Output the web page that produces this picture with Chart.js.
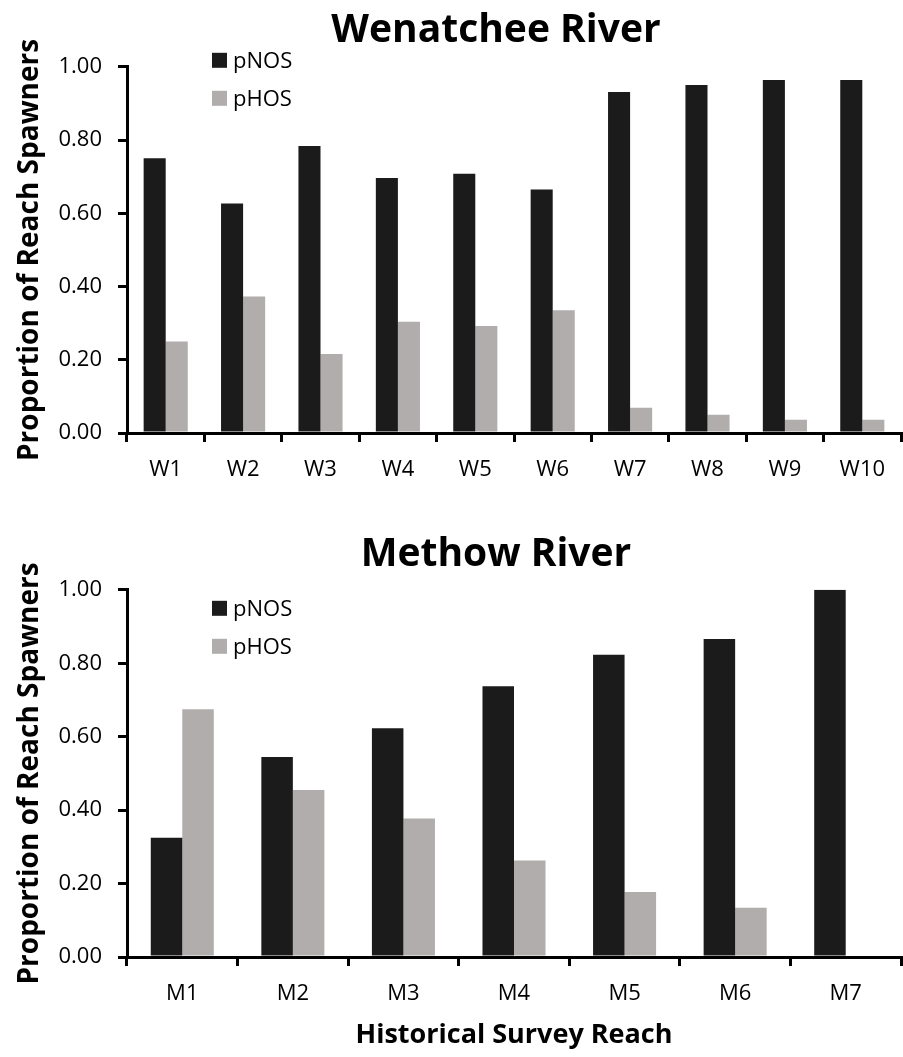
<!DOCTYPE html>
<html>
<head>
<meta charset="utf-8">
<script src="https://cdn.jsdelivr.net/npm/chart.js@4.4.1/dist/chart.umd.min.js"></script>
<style>
  body { margin: 0; background: #fff; }
  canvas { display: block; }
</style>
</head>
<body>
<canvas id="wenChart" width="903" height="490"></canvas>
<canvas id="metChart" width="903" height="567"></canvas>
<script>
// Wenatchee River reaches
var wenLabels = ['W1', 'W2', 'W3', 'W4', 'W5', 'W6', 'W7', 'W8', 'W9', 'W10'];
var wenNOS = [0.750, 0.627, 0.784, 0.696, 0.708, 0.665, 0.931, 0.950, 0.964, 0.964];
var wenHOS = [0.250, 0.373, 0.216, 0.304, 0.292, 0.335, 0.069, 0.050, 0.036, 0.036];

// Methow River reaches
var metLabels = ['M1', 'M2', 'M3', 'M4', 'M5', 'M6', 'M7'];
var metNOS = [0.325, 0.545, 0.623, 0.737, 0.823, 0.866, 1.000];
var metHOS = [0.675, 0.455, 0.377, 0.263, 0.177, 0.134, 0.000];

var seriesNames = ['pNOS', 'pHOS'];
var seriesColors = ['#1b1b1b', '#b0adac'];

Chart.defaults.font.family = "'Open Sans', sans-serif";
Chart.defaults.color = '#000';

// legend drawn inside the plot, stacked like the original
var innerLegend = {
    id: 'innerLegend',
    afterLayout: function(chart, args, opts) {
        // title sits a bit left of the plot centre in the original
        if (chart.titleBlock) {
            chart.titleBlock.left -= opts.titleShift;
            chart.titleBlock.right -= opts.titleShift;
        }
    },
    afterDraw: function(chart, args, opts) {
        var ctx = chart.ctx;
        var x = chart.chartArea.left + opts.x;
        var y = chart.chartArea.top + opts.y;
        ctx.save();
        ctx.font = "22px 'Open Sans', sans-serif";
        ctx.textBaseline = 'middle';
        chart.data.datasets.forEach(function(ds, i) {
            var cy = y + i * opts.gap;
            ctx.fillStyle = ds.backgroundColor;
            ctx.fillRect(x, cy - 7, 15, 15);
            ctx.fillStyle = '#000';
            ctx.fillText(ds.label, x + 21, cy + 2);
        });
        ctx.restore();
    }
};

function makeChart(id, title, labels, nos, hos, opt) {
    var xAxis = {
        grid: { offset: true, drawOnChartArea: false, tickLength: 9, color: '#000', lineWidth: 3 },
        border: { color: '#000', width: 3 },
        ticks: { font: { size: 22 }, padding: 15 },
        afterFit: function(scale) { scale.height = opt.xHeight; }
    };
    if (opt.xTitle) {
        xAxis.title = { display: true, text: opt.xTitle, font: { size: 27, weight: 'bold' }, padding: { top: 0, bottom: 5 } };
    }
    return new Chart(document.getElementById(id), {
        type: 'bar',
        data: {
            labels: labels,
            datasets: [
                { label: seriesNames[0], data: nos, backgroundColor: seriesColors[0] },
                { label: seriesNames[1], data: hos, backgroundColor: seriesColors[1] }
            ]
        },
        options: {
            responsive: false,
            animation: false,
            categoryPercentage: 0.57,
            barPercentage: 1.0,
            layout: { padding: { left: 0, right: 2, top: 0, bottom: 0 } },
            plugins: {
                legend: { display: false },
                tooltip: { enabled: false },
                title: {
                    display: true,
                    text: title,
                    fullSize: false,
                    font: { size: 39, weight: 'bold' },
                    color: '#000',
                    padding: opt.titlePad
                },
                innerLegend: opt.legend
            },
            scales: {
                x: xAxis,
                y: {
                    min: 0,
                    max: 1,
                    ticks: {
                        stepSize: 0.2,
                        font: { size: 22 },
                        padding: 16,
                        callback: function(v) { return v.toFixed(2); }
                    },
                    grid: { drawOnChartArea: false, tickLength: 9, color: '#000', lineWidth: 3 },
                    border: { color: '#000', width: 3 },
                    title: {
                        display: true,
                        text: 'Proportion of Reach Spawners',
                        font: { size: 28, weight: 'bold' },
                        padding: { top: 13, bottom: 0 }
                    },
                    afterFit: function(scale) { scale.width = 127; }
                }
            }
        },
        plugins: [innerLegend]
    });
}

makeChart('wenChart', 'Wenatchee River', wenLabels, wenNOS, wenHOS, {
    xHeight: 57,
    titlePad: { top: 7, bottom: 13 },
    legend: { x: 85, y: -7, gap: 38, titleShift: 18 }
});

makeChart('metChart', 'Methow River', metLabels, metNOS, metHOS, {
    xHeight: 100,
    xTitle: 'Historical Survey Reach',
    titlePad: { top: 41, bottom: 12 },
    legend: { x: 85, y: 18, gap: 38, titleShift: 18 }
});
</script>
</body>
</html>
